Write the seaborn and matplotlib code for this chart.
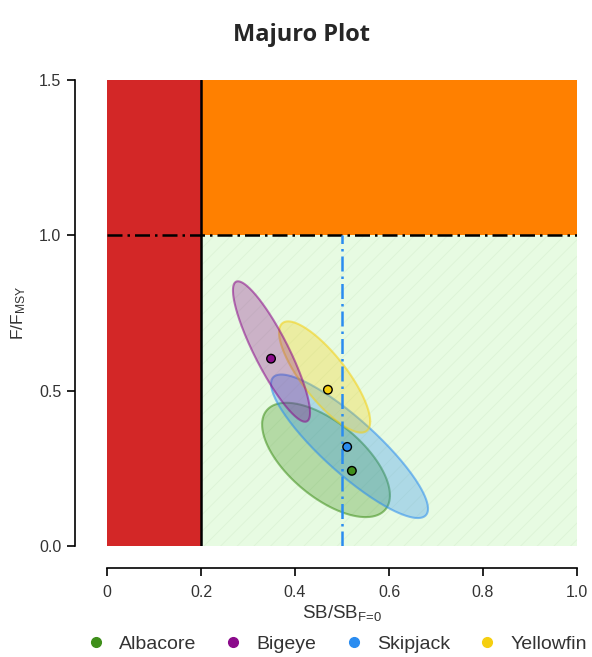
import numpy as np
import pandas as pd
import matplotlib
matplotlib.use('Agg')
import matplotlib.pyplot as plt
from matplotlib.lines import Line2D
import seaborn as sns

# Datos
especies = ['Albacore', 'Bigeye', 'Skipjack', 'Yellowfin']
sb_punto = [0.521, 0.349, 0.511, 0.470]
f_punto = [0.242, 0.603, 0.319, 0.503]
colores = ['#3f8f1a', '#8b0a8b', '#2a8cf0', '#f5cf10']

# Regiones de incertidumbre: centro, semiancho x, semialto y, correlacion
elip_cx = [0.466, 0.350, 0.516, 0.463]
elip_cy = [0.277, 0.626, 0.321, 0.544]
elip_ax = [0.136, 0.082, 0.167, 0.097]
elip_ay = [0.184, 0.226, 0.231, 0.179]
elip_rho = [-0.62, -0.87, -0.87, -0.80]

ticks_x = [0, 0.2, 0.4, 0.6, 0.8, 1.0]
etiq_x = ['0', '0.2', '0.4', '0.6', '0.8', '1.0']
ticks_y = [0.0, 0.5, 1.0, 1.5]
etiq_y = ['0.0', '0.5', '1.0', '1.5']

lim_sb = 0.2
lim_f = 1.0
objetivo_sb = 0.5

sns.set_style('white')
plt.rcParams['font.family'] = ['Liberation Sans', 'DejaVu Sans']
plt.rcParams['mathtext.fontset'] = 'custom'
plt.rcParams['mathtext.rm'] = 'Liberation Sans'
plt.rcParams['mathtext.it'] = 'Liberation Sans'
plt.rcParams['hatch.linewidth'] = 0.6

fig = plt.figure(figsize=(5.92, 6.57), dpi=100)
ax = fig.add_axes([107 / 592, 1 - 546 / 657, 470 / 592, 466 / 657])

# Fondos
ax.fill_between([0, lim_sb], 0, 1.5, color='#d32727', lw=0, zorder=0)
ax.fill_between([lim_sb, 1.0], lim_f, 1.5, color='#ff8000', lw=0, zorder=0)
ax.fill_between([lim_sb, 1.0], 0, lim_f, facecolor='#e7fbe2', edgecolor='#dcf3d6',
                hatch='//', lw=0, zorder=0)

# Elipses
t = np.linspace(0, 2 * np.pi, 200)
for i in [0, 2, 3, 1]:
    phi = np.arccos(elip_rho[i])
    xs = elip_cx[i] + elip_ax[i] * np.cos(t)
    ys = elip_cy[i] + elip_ay[i] * np.cos(t + phi)
    ax.fill(xs, ys, facecolor=colores[i], alpha=0.3, edgecolor='none', zorder=2)
    ax.plot(xs, ys, color=colores[i], alpha=0.55, lw=1.5, zorder=2)

# Lineas de referencia
ax.plot([lim_sb, lim_sb], [0, 1.5], color='black', lw=1.8, zorder=3)
ax.plot([0, 1.0], [lim_f, lim_f], color='black', lw=1.8, ls=(0, (6, 2, 1, 2)), zorder=3)
ax.plot([objetivo_sb, objetivo_sb], [0, lim_f], color='#2a8cf0', lw=1.8,
        ls=(0, (6, 2, 1, 2)), zorder=3)

df = pd.DataFrame({'SB': sb_punto, 'F': f_punto, 'Especie': especies})
sns.scatterplot(data=df, x='SB', y='F', hue='Especie', palette=colores,
                s=38, edgecolor='black', linewidth=1.0, ax=ax, zorder=4, legend=False)

ax.set_xlim(0, 1.0)
ax.set_ylim(0, 1.5)
ax.set_xticks(ticks_x)
ax.set_xticklabels(etiq_x)
ax.set_yticks(ticks_y)
ax.set_yticklabels(etiq_y)
ax.tick_params(axis='both', direction='out', length=6, width=1.2, labelsize=11.5,
               colors='black', labelcolor='#333333', bottom=True, left=True)
ax.tick_params(axis='x', pad=6)
ax.tick_params(axis='y', pad=4)

sns.despine(ax=ax, offset={'left': 23, 'bottom': 16})
ax.spines['left'].set_bounds(0, 1.5)
ax.spines['bottom'].set_bounds(0, 1.0)
for s in ['left', 'bottom']:
    ax.spines[s].set_linewidth(1.2)
    ax.spines[s].set_color('black')

ax.set_xlabel(r'SB/SB$_{\mathrm{F\!=\!0}}$', fontsize=13.5, color='#333333', labelpad=2)
ax.set_ylabel(r'F/F$_{\mathrm{MSY}}$', fontsize=12.5, color='#333333', labelpad=8)

fig.suptitle('Majuro Plot', x=0.51, y=0.965, fontsize=17, fontweight='bold',
             family=['Open Sans', 'DejaVu Sans'])

handles = [Line2D([], [], marker='o', ls='', color=c, markersize=7) for c in colores]
fig.legend(handles, especies, loc='center', bbox_to_anchor=(0.56, 1 - 644 / 657), ncol=4,
           frameon=False, fontsize=14, handletextpad=0.2, columnspacing=0.9,
           labelcolor='#333333', borderpad=0)

fig.savefig('out.png', dpi=100)
